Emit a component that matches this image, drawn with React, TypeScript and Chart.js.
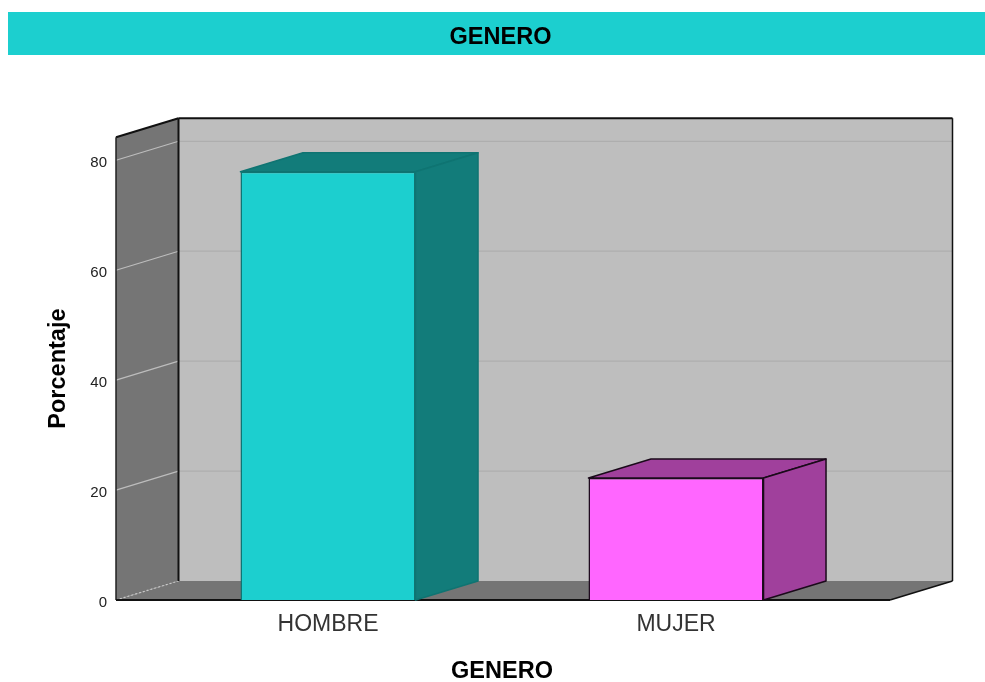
import React, { useEffect, useRef } from "react";
import { Chart, registerables } from "chart.js";

Chart.register(...registerables);

const categories = ["HOMBRE", "MUJER"];
const percentages = [77.9, 22.2];
const frontColors = ["#1ccfcf", "#ff66ff"];
const shadeColors = ["#127c7a", "#a0409c"];
const edgeColors = ["#0f7472", "#1a0a1a"];
const chartTitle = "GENERO";
const xTitle = "GENERO";
const yTitle = "Porcentaje";
const yTop = 84.2;
const yStep = 20;

const FONT = "'Liberation Sans', Arial, sans-serif";
const DX = 62.5;
const DY = -19;
const WALL_LEFT = 38;
const WALL_RIGHT = 40;

function poly(ctx: CanvasRenderingContext2D, pts: number[][], fill?: string, stroke?: string, lw = 1) {
  ctx.beginPath();
  pts.forEach((p, i) => (i ? ctx.lineTo(p[0], p[1]) : ctx.moveTo(p[0], p[1])));
  ctx.closePath();
  if (fill) {
    ctx.fillStyle = fill;
    ctx.fill();
  }
  if (stroke) {
    ctx.strokeStyle = stroke;
    ctx.lineWidth = lw;
    ctx.lineJoin = "round";
    ctx.stroke();
  }
}

function line(ctx: CanvasRenderingContext2D, a: number[], b: number[], color: string, lw: number, dash: number[] = []) {
  ctx.save();
  ctx.beginPath();
  ctx.setLineDash(dash);
  ctx.moveTo(a[0], a[1]);
  ctx.lineTo(b[0], b[1]);
  ctx.strokeStyle = color;
  ctx.lineWidth = lw;
  ctx.stroke();
  ctx.restore();
}

const bandPlugin = {
  id: "band",
  afterLayout(chart: any) {
    // centre the title over the whole canvas, not just the padded area
    chart.titleBlock.left = 0;
    chart.titleBlock.right = chart.width;
  },
  beforeDraw(chart: any) {
    const { ctx, width } = chart;
    ctx.save();
    ctx.fillStyle = "#1ccfcf";
    ctx.fillRect(0, 4, width, 43);
    ctx.restore();
  },
};

const roomPlugin = {
  id: "room",
  beforeDatasetsDraw(chart: any) {
    const { ctx, chartArea, scales } = chart;
    const l = chartArea.left - WALL_LEFT;
    const r = chartArea.right + WALL_RIGHT;
    const t = chartArea.top;
    const b = chartArea.bottom;
    const bl = l + DX;
    const br = r + DX;
    const bt = t + DY;
    const bb = b + DY;
    ctx.save();
    poly(ctx, [[bl, bt], [br, bt], [br, bb], [bl, bb]], "#bebebe");
    poly(ctx, [[l, t], [bl, bt], [bl, bb], [l, b]], "#757575");
    poly(ctx, [[l, b], [bl, bb], [br, bb], [r, b]], "#757575");
    scales.y.ticks.forEach((tk: any) => {
      if (tk.value === 0) return;
      const y = scales.y.getPixelForValue(tk.value);
      line(ctx, [l, y], [bl, y + DY], "#bdbdbd", 1.2);
      line(ctx, [bl, y + DY], [br, y + DY], "#aeaeae", 1.2);
    });
    line(ctx, [l, b], [bl, bb], "#c8c8c8", 1.2, [2, 2]);
    line(ctx, [l, t], [bl, bt], "#111111", 2);
    line(ctx, [l, t], [l, b], "#222222", 1.5);
    line(ctx, [bl, bt], [bl, bb], "#111111", 2);
    line(ctx, [bl, bt], [br, bt], "#111111", 2);
    line(ctx, [br, bt], [br, bb], "#111111", 1.5);
    line(ctx, [br, bb], [r, b], "#111111", 1.5);
    line(ctx, [l, b], [r, b], "#111111", 2);

    const els = chart.getDatasetMeta(0).data;
    els.forEach((el: any, i: number) => {
      const { x, y, base, width } = el.getProps(["x", "y", "base", "width"], true);
      const x0 = x - width / 2;
      const x1 = x + width / 2;
      poly(ctx, [[x0, y], [x1, y], [x1 + DX, y + DY], [x0 + DX, y + DY]], shadeColors[i], edgeColors[i], 1.5);
      poly(ctx, [[x1, y], [x1 + DX, y + DY], [x1 + DX, base + DY], [x1, base]], shadeColors[i], edgeColors[i], 1.5);
    });
    ctx.restore();
  },
};

export default function App() {
  const ref = useRef<HTMLCanvasElement>(null);
  useEffect(() => {
    const canvas = ref.current;
    if (!canvas) return;
    const chart = new Chart(canvas, {
      type: "bar",
      data: {
        labels: categories,
        datasets: [
          {
            data: percentages,
            backgroundColor: frontColors,
            borderColor: edgeColors,
            borderWidth: 1.5,
            barPercentage: 0.503,
            categoryPercentage: 1,
          },
        ],
      },
      options: {
        responsive: false,
        animation: false,
        layout: { padding: { left: 0, right: 143, top: 0, bottom: 0 } },
        plugins: {
          legend: { display: false },
          tooltip: { enabled: false },
          title: {
            display: true,
            text: chartTitle,
            color: "#000000",
            font: { family: FONT, size: 23.5, weight: "bold" },
            padding: { top: 15, bottom: 86 },
          },
        },
        scales: {
          x: {
            grid: { display: false },
            border: { display: false },
            ticks: { color: "#333333", font: { family: FONT, size: 23 }, padding: 3, maxRotation: 0 },
            title: {
              display: true,
              text: xTitle,
              color: "#000000",
              font: { family: FONT, size: 23.5, weight: "bold" },
              padding: { top: 0, bottom: 2 },
            },
            afterFit(s: any) {
              s.height = 88;
            },
          },
          y: {
            min: 0,
            max: yTop,
            grid: { display: false },
            border: { display: false },
            afterBuildTicks(s: any) {
              s.ticks = s.ticks.filter((t: any) => t.value % yStep === 0);
            },
            afterUpdate(s: any) {
              // tick labels sit slightly below their grid line in the reference
              if (s.__shifted) return;
              s.__shifted = true;
              const draw = s.drawLabels;
              s.drawLabels = function (area: any) {
                s.ctx.save();
                s.ctx.translate(0, 3);
                draw.call(s, area);
                s.ctx.restore();
              };
            },
            ticks: { stepSize: yStep, color: "#222222", font: { family: FONT, size: 15 }, padding: 39 },
            title: {
              display: true,
              text: yTitle,
              color: "#000000",
              font: { family: FONT, size: 23.5, weight: "bold" },
              padding: { top: 36, bottom: 0 },
            },
            afterFit(s: any) {
              s.width = 146;
            },
          },
        },
      },
      plugins: [bandPlugin, roomPlugin],
    } as any);
    return () => chart.destroy();
  }, []);
  return (
    <div style={{ position: "absolute", left: 8, top: 8, width: 977, height: 674, overflow: "hidden" }}>
      <canvas ref={ref} width={985} height={680} style={{ display: "block" }} />
    </div>
  );
}
